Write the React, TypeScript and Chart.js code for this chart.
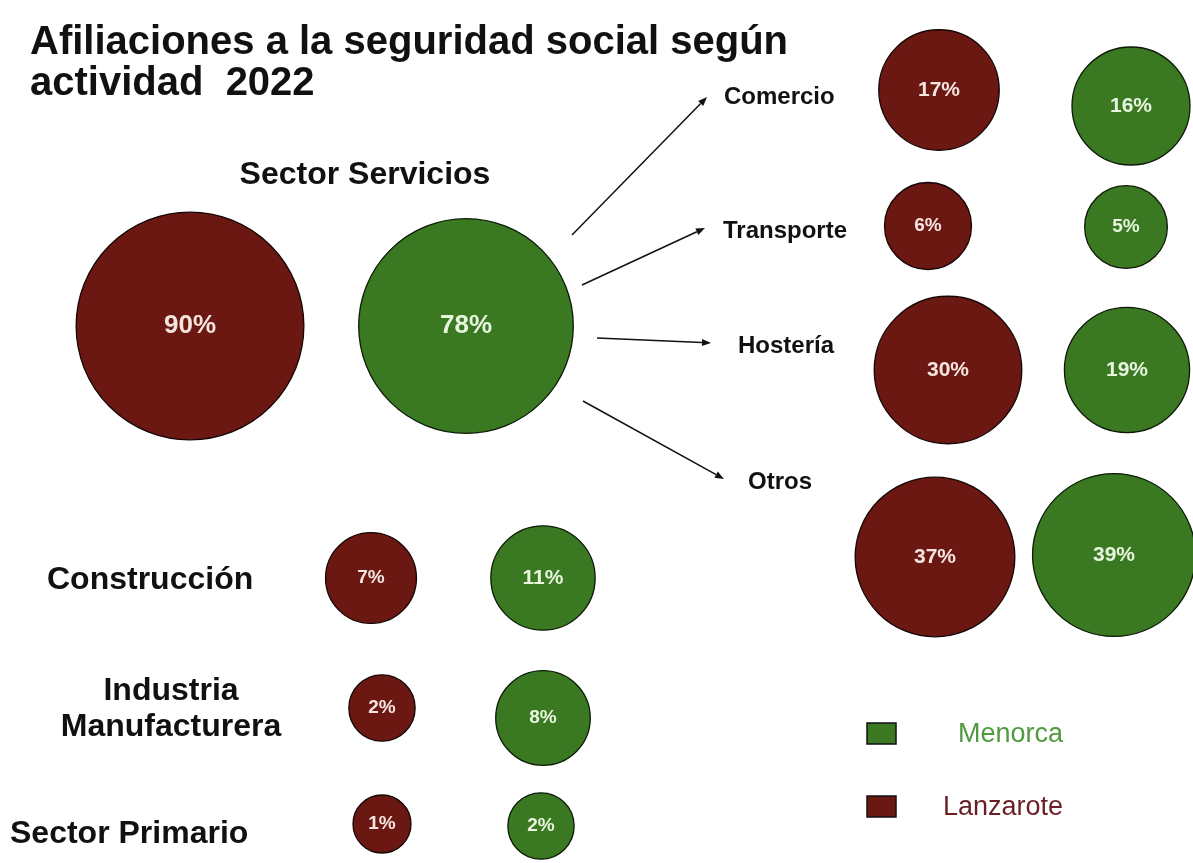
import React, { useEffect, useRef } from 'react';
import { Chart, registerables } from 'chart.js';

Chart.register(...registerables);

// ---------- data ----------
const TITLE_LINES = ['Afiliaciones a la seguridad social según', 'actividad  2022'];
const ISLANDS = ['Menorca', 'Lanzarote'];
const SERVICE_LABEL = 'Sector Servicios';
const SERVICE_LANZAROTE = 90;
const SERVICE_MENORCA = 78;
const SUBSECTORS = ['Comercio', 'Transporte', 'Hostería', 'Otros'];
const SUB_LANZAROTE = [17, 6, 30, 37];
const SUB_MENORCA = [16, 5, 19, 39];
const OTHER_SECTORS = [['Construcción'], ['Industria', 'Manufacturera'], ['Sector Primario']];
const OTHER_LANZAROTE = [7, 2, 1];
const OTHER_MENORCA = [11, 8, 2];

// ---------- layout (scale units: the hidden x/y scales span the canvas) ----------
const W = 1193;
const H = 863;
const FONT = '"Liberation Sans", Arial, Helvetica, sans-serif';
const RED = '#6b1813';
const GREEN = '#3a7822';
const RED_TEXT = '#6a1f25';
const GREEN_TEXT = '#4f9a3f';

const LAYOUT = {
  service: { xL: 190, xM: 466, y: 326, labelX: 365, labelY: 184 },
  sub: {
    xL: [939, 928, 948, 935],
    xM: [1131, 1126, 1127, 1114],
    yL: [90, 226, 370, 557],
    yM: [106, 227, 370, 555],
    labelX: [724, 723, 738, 748],
    labelY: [104, 238, 353, 489],
  },
  other: {
    xL: [371, 382, 382],
    xM: [543, 543, 541],
    yL: [578, 708, 824],
    yM: [578, 718, 826],
    label: [
      { x: 47, y: 589, align: 'left' },
      { x: 171, y: 700, align: 'center' },
      { x: 10, y: 843, align: 'left' },
    ],
  },
  arrows: [
    [572, 235, 707, 97],
    [582, 285, 705, 228],
    [597, 338, 711, 343],
    [583, 401, 724, 479],
  ],
  title: { x: 30, y: [54, 95] },
  legend: { boxX: 867, boxW: 29, boxH: 21, rows: [{ boxY: 723, textX: 958, textY: 742 }, { boxY: 796, textX: 943, textY: 815 }] },
};

function radiusFor(v: number) {
  return 19 + 10 * Math.sqrt(v);
}

function point(x: number, y: number, v: number) {
  return { x, y, r: radiusFor(v), v };
}

const lanzarotePoints = [
  point(LAYOUT.service.xL, LAYOUT.service.y, SERVICE_LANZAROTE),
  ...SUB_LANZAROTE.map((v, i) => point(LAYOUT.sub.xL[i], LAYOUT.sub.yL[i], v)),
  ...OTHER_LANZAROTE.map((v, i) => point(LAYOUT.other.xL[i], LAYOUT.other.yL[i], v)),
];
const menorcaPoints = [
  point(LAYOUT.service.xM, LAYOUT.service.y, SERVICE_MENORCA),
  ...SUB_MENORCA.map((v, i) => point(LAYOUT.sub.xM[i], LAYOUT.sub.yM[i], v)),
  ...OTHER_MENORCA.map((v, i) => point(LAYOUT.other.xM[i], LAYOUT.other.yM[i], v)),
];

const overlayPlugin = {
  id: 'infographicOverlay',
  afterDatasetsDraw(chart: any) {
    const { ctx } = chart;
    const xs = chart.scales.x;
    const ys = chart.scales.y;
    const px = (v: number) => xs.getPixelForValue(v);
    const py = (v: number) => ys.getPixelForValue(v);
    ctx.save();

    // values inside bubbles
    chart.data.datasets.forEach((ds: any, di: number) => {
      const meta = chart.getDatasetMeta(di);
      meta.data.forEach((el: any, i: number) => {
        const raw = ds.data[i];
        const size = raw.r > 90 ? 26 : raw.r > 50 ? 21 : 19;
        ctx.font = `bold ${size}px ${FONT}`;
        ctx.fillStyle = ds.valueColor;
        ctx.textAlign = 'center';
        ctx.textBaseline = 'middle';
        ctx.fillText(`${raw.v}%`, el.x, el.y);
      });
    });

    ctx.fillStyle = '#111';
    ctx.textBaseline = 'alphabetic';

    // title
    ctx.font = `bold 40px ${FONT}`;
    ctx.textAlign = 'left';
    TITLE_LINES.forEach((t, i) => ctx.fillText(t, px(LAYOUT.title.x), py(LAYOUT.title.y[i])));

    // service label
    ctx.font = `bold 32px ${FONT}`;
    ctx.textAlign = 'center';
    ctx.fillText(SERVICE_LABEL, px(LAYOUT.service.labelX), py(LAYOUT.service.labelY));

    // sub-sector labels
    ctx.font = `bold 24px ${FONT}`;
    ctx.textAlign = 'left';
    SUBSECTORS.forEach((s, i) => ctx.fillText(s, px(LAYOUT.sub.labelX[i]), py(LAYOUT.sub.labelY[i])));

    // other sectors
    ctx.font = `bold 32px ${FONT}`;
    OTHER_SECTORS.forEach((lines, i) => {
      const l = LAYOUT.other.label[i];
      ctx.textAlign = l.align;
      lines.forEach((line, j) => ctx.fillText(line, px(l.x), py(l.y + j * 36)));
    });

    // arrows
    ctx.strokeStyle = '#111';
    ctx.lineWidth = 1.5;
    LAYOUT.arrows.forEach(([x1, y1, x2, y2]) => {
      const ax = px(x1), ay = py(y1), bx = px(x2), by = py(y2);
      const ang = Math.atan2(by - ay, bx - ax);
      const len = 9, half = 3.5;
      const baseX = bx - len * Math.cos(ang), baseY = by - len * Math.sin(ang);
      ctx.beginPath();
      ctx.moveTo(ax, ay);
      ctx.lineTo(baseX, baseY);
      ctx.stroke();
      ctx.beginPath();
      ctx.moveTo(bx, by);
      ctx.lineTo(baseX + half * Math.sin(ang), baseY - half * Math.cos(ang));
      ctx.lineTo(baseX - half * Math.sin(ang), baseY + half * Math.cos(ang));
      ctx.closePath();
      ctx.fill();
    });

    // legend
    const fills = [GREEN, RED];
    const texts = [GREEN_TEXT, RED_TEXT];
    ctx.font = `27px ${FONT}`;
    ctx.textAlign = 'left';
    ISLANDS.forEach((name, i) => {
      const row = LAYOUT.legend.rows[i];
      const bx = px(LAYOUT.legend.boxX), by = py(row.boxY);
      ctx.fillStyle = fills[i];
      ctx.fillRect(bx, by, LAYOUT.legend.boxW, LAYOUT.legend.boxH);
      ctx.strokeStyle = '#111';
      ctx.lineWidth = 1.5;
      ctx.strokeRect(bx, by, LAYOUT.legend.boxW, LAYOUT.legend.boxH);
      ctx.fillStyle = texts[i];
      ctx.fillText(name, px(row.textX), py(row.textY));
    });

    ctx.restore();
  },
};

export default function App() {
  const canvasRef = useRef<HTMLCanvasElement | null>(null);

  useEffect(() => {
    if (!canvasRef.current) return;
    const chart = new Chart(canvasRef.current, {
      type: 'bubble',
      data: {
        datasets: [
          {
            label: ISLANDS[1],
            data: lanzarotePoints,
            backgroundColor: RED,
            borderColor: '#140505',
            borderWidth: 1.3,
            valueColor: '#f6e4df',
            clip: false,
          } as any,
          {
            label: ISLANDS[0],
            data: menorcaPoints,
            backgroundColor: GREEN,
            borderColor: '#0c1a06',
            borderWidth: 1.3,
            valueColor: '#e8f6df',
            clip: false,
          } as any,
        ],
      },
      options: {
        responsive: false,
        animation: false,
        events: [],
        layout: { padding: 0, autoPadding: false },
        plugins: {
          legend: { display: false },
          tooltip: { enabled: false },
          title: { display: false },
        },
        scales: {
          x: { type: 'linear', min: 0, max: W, display: false },
          y: { type: 'linear', min: 0, max: H, reverse: true, display: false },
        },
      },
      plugins: [overlayPlugin],
    });
    return () => chart.destroy();
  }, []);

  return (
    <div style={{ position: 'absolute', left: 0, top: 0, width: W, height: H, background: '#fff' }}>
      <canvas ref={canvasRef} width={W} height={H} />
    </div>
  );
}
